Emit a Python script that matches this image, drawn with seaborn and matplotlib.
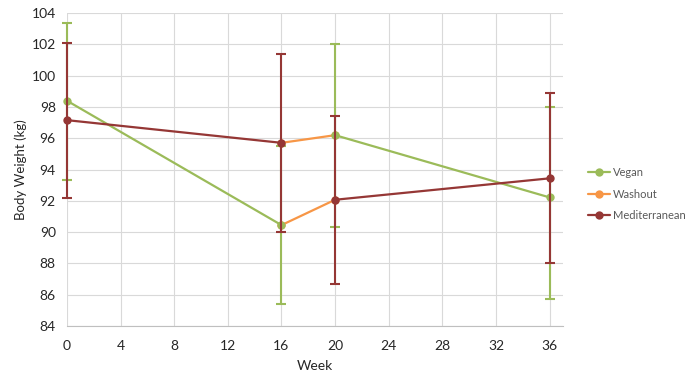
import matplotlib.pyplot as plt
import seaborn as sns
import pandas as pd

# 체중 데이터 (교차 설계: 각 구간은 따로 그린다)
vegan_week = [0, 16, 20, 36]
vegan_weight = [98.4, 90.45, 96.2, 92.22]
vegan_seg = ['a', 'a', 'b', 'b']
vegan_err_low = [5.07, 5.06, 5.9, 6.49]
vegan_err_high = [4.96, 5.06, 5.86, 5.78]

washout_week = [16, 20, 16, 20]
washout_weight = [90.45, 92.07, 95.71, 96.2]
washout_seg = ['a', 'a', 'b', 'b']

med_week = [0, 16, 20, 36]
med_weight = [97.16, 95.71, 92.07, 93.44]
med_seg = ['a', 'a', 'b', 'b']
med_err_low = [4.96, 5.72, 5.37, 5.41]
med_err_high = [4.94, 5.71, 5.35, 5.43]

week_ticks = [0, 4, 8, 12, 16, 20, 24, 28, 32, 36]
weight_ticks = [84, 86, 88, 90, 92, 94, 96, 98, 100, 102, 104]

colors = {'Vegan': '#9BBB59', 'Washout': '#F79646', 'Mediterranean': '#953735'}

sns.set_style('white')
plt.rcParams['font.family'] = ['Lato', 'DejaVu Sans']

fig = plt.figure(figsize=(6.87, 3.76), dpi=100)
ax = fig.add_axes([0.0975, 0.133, 0.722, 0.832])

series = [
    ('Washout', washout_week, washout_weight, washout_seg, 2),
    ('Vegan', vegan_week, vegan_weight, vegan_seg, 3),
    ('Mediterranean', med_week, med_weight, med_seg, 4),
]
for name, wk, wt, seg, z in series:
    df = pd.DataFrame({'week': wk, 'weight': wt, 'seg': seg})
    sns.lineplot(data=df, x='week', y='weight', units='seg', estimator=None,
                 color=colors[name], marker='o', markersize=6,
                 markeredgewidth=0, linewidth=1.6, ax=ax, zorder=z,
                 label=name, clip_on=False)

# 오차 막대
for wk, wt, lo, hi, name, z in [
        (vegan_week, vegan_weight, vegan_err_low, vegan_err_high, 'Vegan', 3),
        (med_week, med_weight, med_err_low, med_err_high, 'Mediterranean', 4)]:
    eb = ax.errorbar(wk, wt, yerr=[lo, hi], fmt='none', ecolor=colors[name],
                     elinewidth=1.5, capsize=3.8, capthick=1.5, zorder=z)
    for art in list(eb.lines[1]) + list(eb.lines[2]):
        art.set_clip_on(False)

ax.set_xlim(0, 37)
ax.set_ylim(84, 104)
ax.set_xticks(week_ticks)
ax.set_yticks(weight_ticks)
ax.grid(True, color='#D9D9D9', linewidth=0.8)
ax.set_axisbelow(True)
for side in ['top', 'right', 'left']:
    ax.spines[side].set_visible(False)
ax.spines['bottom'].set_color('#BFBFBF')
ax.tick_params(axis='x', length=0, labelsize=10, labelcolor='#262626', pad=10)
ax.tick_params(axis='y', length=0, labelsize=10, labelcolor='#262626', pad=8)

ax.set_xlabel('Week', fontsize=10, color='#262626', labelpad=6)
ax.set_ylabel('Body Weight (kg)', fontsize=9.5, color='#262626', labelpad=3)

handles, labels = ax.get_legend_handles_labels()
order = [labels.index(n) for n in ['Vegan', 'Washout', 'Mediterranean']]
leg = ax.legend([handles[i] for i in order], [labels[i] for i in order],
                loc='center left', bbox_to_anchor=(0.856, 0.484),
                bbox_transform=fig.transFigure, frameon=False, fontsize=8,
                handlelength=2.0, handletextpad=0.2, labelspacing=0.95,
                borderpad=0, borderaxespad=0)
for t in leg.get_texts():
    t.set_color('#595959')

fig.savefig('out.png', dpi=100)
